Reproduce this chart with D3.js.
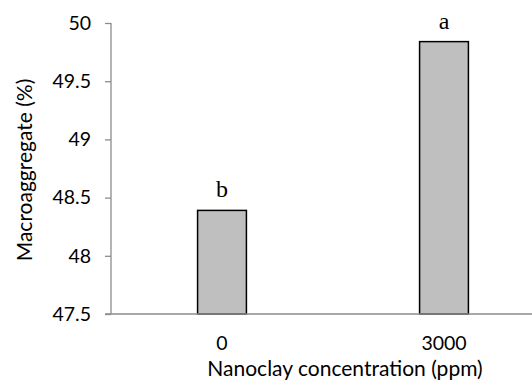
<!DOCTYPE html>
<html lang="en">
<head>
    <meta charset="UTF-8">
    <title>Macroaggregate vs Nanoclay</title>
    <script src="https://d3js.org/d3.v7.min.js"></script>
    <style>
        body {
            margin: 0;
            background-color: #ffffff;
        }
        svg {
            display: block;
        }
    </style>
</head>
<body>
    <div id="chart"></div>

    <script>
        // data
        const categories = ["0", "3000"];
        const values = [48.39, 49.84];
        const letters = ["b", "a"];
        const yTicks = [47.5, 48, 48.5, 49, 49.5, 50];

        const width = 532;
        const height = 380;
        const margin = { top: 23, right: -23, bottom: 66, left: 111 };

        const x = d3.scaleBand()
            .domain(categories)
            .range([margin.left, width - margin.right]);

        const y = d3.scaleLinear()
            .domain([47.5, 50])
            .range([height - margin.bottom, margin.top]);

        const barWidth = x.bandwidth() * 0.22;

        const svg = d3.select("#chart")
            .append("svg")
            .attr("width", width)
            .attr("height", height);

        // y axis
        const yAxis = svg.append("g")
            .attr("transform", `translate(${margin.left},0)`)
            .call(d3.axisLeft(y).tickValues(yTicks).tickSize(6).tickPadding(14).tickFormat(d => String(d)));
        yAxis.selectAll("line, path").attr("stroke", "#8c8c8c").attr("stroke-width", 1.3);
        yAxis.select(".domain").attr("d", `M0,${y(50)}V${y(47.5)}`);
        yAxis.selectAll("text")
            .attr("font-family", "Lato, sans-serif")
            .attr("font-size", 19.5)
            .attr("fill", "#000");

        // bars
        svg.append("g")
            .selectAll("rect")
            .data(values)
            .join("rect")
            .attr("x", (d, i) => x(categories[i]) + x.bandwidth() / 2 - barWidth / 2)
            .attr("y", d => y(d))
            .attr("width", barWidth)
            .attr("height", d => y(47.5) - y(d))
            .attr("fill", "#bfbfbf")
            .attr("stroke", "#000")
            .attr("stroke-width", 1.5);

        // x axis line
        svg.append("line")
            .attr("x1", margin.left - 6)
            .attr("x2", width)
            .attr("y1", y(47.5))
            .attr("y2", y(47.5))
            .attr("stroke", "#8c8c8c")
            .attr("stroke-width", 1.3);

        // category labels
        svg.append("g")
            .selectAll("text")
            .data(categories)
            .join("text")
            .attr("x", d => x(d) + x.bandwidth() / 2)
            .attr("y", 350)
            .attr("text-anchor", "middle")
            .attr("font-family", "Lato, sans-serif")
            .attr("font-size", 19.5)
            .text(d => d);

        // significance letters
        svg.append("g")
            .selectAll("text")
            .data(values)
            .join("text")
            .attr("x", (d, i) => x(categories[i]) + x.bandwidth() / 2)
            .attr("y", d => y(d) - 13)
            .attr("text-anchor", "middle")
            .attr("font-family", "'Liberation Serif', 'Times New Roman', serif")
            .attr("font-size", 24)
            .text((d, i) => letters[i]);

        // axis titles
        svg.append("text")
            .attr("x", 345)
            .attr("y", 376)
            .attr("text-anchor", "middle")
            .attr("font-family", "Lato, sans-serif")
            .attr("font-size", 21)
            .text("Nanoclay concentration (ppm)");

        svg.append("text")
            .attr("transform", `translate(32,170) rotate(-90)`)
            .attr("text-anchor", "middle")
            .attr("font-family", "Lato, sans-serif")
            .attr("font-size", 21)
            .text("Macroaggregate (%)");
    </script>
</body>
</html>
